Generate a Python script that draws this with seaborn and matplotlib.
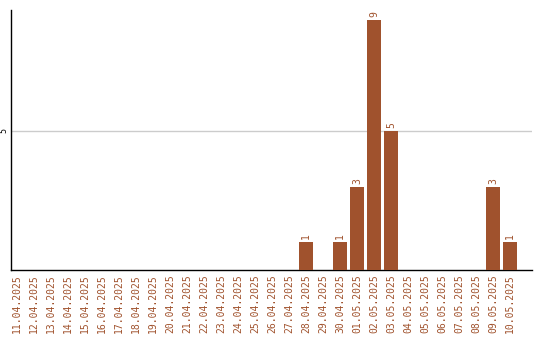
import matplotlib
matplotlib.use("Agg")
import matplotlib.pyplot as plt
import seaborn as sns
import pandas as pd

dates = ["11.04.2025", "12.04.2025", "13.04.2025", "14.04.2025", "15.04.2025",
         "16.04.2025", "17.04.2025", "18.04.2025", "19.04.2025", "20.04.2025",
         "21.04.2025", "22.04.2025", "23.04.2025", "24.04.2025", "25.04.2025",
         "26.04.2025", "27.04.2025", "28.04.2025", "29.04.2025", "30.04.2025",
         "01.05.2025", "02.05.2025", "03.05.2025", "04.05.2025", "05.05.2025",
         "06.05.2025", "07.05.2025", "08.05.2025", "09.05.2025", "10.05.2025"]
counts = [0, 0, 0, 0, 0, 0, 0, 0, 0, 0,
          0, 0, 0, 0, 0, 0, 0, 1, 0, 1,
          3, 9, 5, 0, 0, 0, 0, 0, 3, 1]
y_ticks = [5]

color = "#A0522D"
df = pd.DataFrame({"date": dates, "count": counts})

sns.set_style("white")
plt.rcParams["font.family"] = ["DejaVu Sans Mono", "DejaVu Sans"]

fig = plt.figure(figsize=(5.4, 3.4), dpi=100)
ax = fig.add_axes([11 / 540, 70 / 340, 521 / 540, 260 / 340])

sns.barplot(data=df, x="date", y="count", color=color, saturation=1,
            width=0.82, ax=ax, zorder=3, linewidth=0)

ax.set_xlim(-0.35, 30.3)
ax.set_ylim(0, 9.35)
ax.set_yticks(y_ticks)
ax.set_yticklabels([str(t) for t in y_ticks], rotation=90, fontsize=6,
                   va="center", color="black")
ax.tick_params(axis="y", length=0, pad=2)
ax.tick_params(axis="x", length=0, pad=3)
ax.set_xticks(range(len(dates)))
ax.set_xticklabels(dates, rotation=90, fontsize=7, color=color)
ax.yaxis.grid(True, color="#cccccc", linewidth=1, zorder=0)
ax.set_axisbelow(True)
ax.set_xlabel("")
ax.set_ylabel("")

for s in ["top", "right"]:
    ax.spines[s].set_visible(False)
for s in ["left", "bottom"]:
    ax.spines[s].set_color("black")
    ax.spines[s].set_linewidth(1.0)

for i, v in enumerate(counts):
    if v > 0:
        ax.annotate(str(v), (i, v), xytext=(0, 2), textcoords="offset points",
                    rotation=90, ha="center", va="bottom", fontsize=7,
                    color=color)

fig.savefig("out.png", dpi=100)
